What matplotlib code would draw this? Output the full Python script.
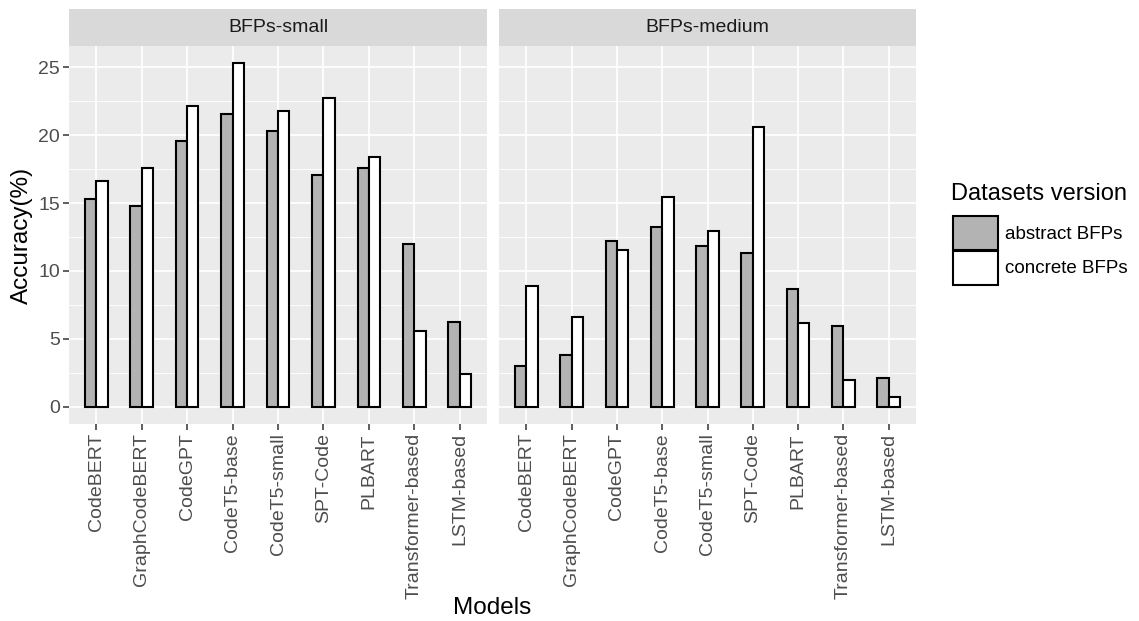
import matplotlib.pyplot as plt
from matplotlib.patches import Rectangle, Patch
import numpy as np

plt.rcParams['font.family'] = ['Liberation Sans', 'DejaVu Sans']

models = ["CodeBERT", "GraphCodeBERT", "CodeGPT", "CodeT5-base", "CodeT5-small",
          "SPT-Code", "PLBART", "Transformer-based", "LSTM-based"]
panels = ["BFPs-small", "BFPs-medium"]
series = ["abstract BFPs", "concrete BFPs"]

small_abstract = [15.30, 14.76, 19.59, 21.57, 20.30, 17.04, 17.56, 11.97, 6.22]
small_concrete = [16.65, 17.58, 22.16, 25.29, 21.74, 22.75, 18.39, 5.58, 2.42]
medium_abstract = [3.01, 3.84, 12.22, 13.20, 11.83, 11.31, 8.69, 5.97, 2.15]
medium_concrete = [8.89, 6.64, 11.53, 15.45, 12.93, 20.57, 6.15, 2.01, 0.69]

data = {
    "BFPs-small": (small_abstract, small_concrete),
    "BFPs-medium": (medium_abstract, medium_concrete),
}
fills = ["#B3B3B3", "#FFFFFF"]

W, H = 1139, 621
fig = plt.figure(figsize=(W / 100, H / 100), dpi=100)

def fx(px):
    return px / W

def fy(py):
    return 1 - py / H

# panel boxes in pixel units: (left, right)
panel_x = [(69, 487), (499, 916)]
top, bottom, strip_top = 46, 424, 9

ymax = max(max(small_concrete), max(small_abstract))
pad = 0.05 * ymax
x = np.arange(1, len(models) + 1)
bw = 0.25

for i, (name, (xl, xr)) in enumerate(zip(panels, panel_x)):
    ax = fig.add_axes([fx(xl), fy(bottom), fx(xr - xl), (bottom - top) / H])
    ax.set_facecolor("#EBEBEB")
    abstract, concrete = data[name]
    ax.bar(x - bw / 2, abstract, width=bw, color=fills[0], edgecolor="black", linewidth=1.5, zorder=3)
    ax.bar(x + bw / 2, concrete, width=bw, color=fills[1], edgecolor="black", linewidth=1.5, zorder=3)
    ax.set_xlim(0.4, len(models) + 0.6)
    ax.set_ylim(-pad, ymax + pad)
    ax.set_yticks([0, 5, 10, 15, 20, 25])
    ax.set_yticks([2.5, 7.5, 12.5, 17.5, 22.5], minor=True)
    ax.set_xticks(x)
    ax.set_xticklabels(models, rotation=90, fontsize=14, color="#4D4D4D")
    ax.grid(which="major", color="white", linewidth=1.25, zorder=0)
    ax.grid(which="minor", axis="y", color="white", linewidth=0.6, zorder=0)
    ax.set_axisbelow(True)
    for s in ax.spines.values():
        s.set_visible(False)
    ax.tick_params(axis="both", which="major", length=4.5, width=1.1, color="#333333", pad=2)
    ax.tick_params(axis="both", which="minor", length=0)
    if i == 0:
        ax.tick_params(axis="y", labelsize=14, labelcolor="#4D4D4D")
    else:
        ax.tick_params(axis="y", left=False, labelleft=False)

    # facet strip
    fig.patches.append(Rectangle((fx(xl), fy(top)), fx(xr - xl), (top - strip_top) / H,
                                 transform=fig.transFigure, facecolor="#D9D9D9",
                                 edgecolor="none", zorder=1))
    fig.text(fx((xl + xr) / 2), fy((top + strip_top) / 2), name, ha="center", va="center",
             fontsize=14, color="#1A1A1A")

fig.text(fx(492), fy(608), "Models", ha="center", va="center", fontsize=17.5)
fig.text(fx(22), fy(235), "Accuracy(%)", ha="center", va="center", rotation=90, fontsize=17.5)

# legend: title as plain text, keys below it
fig.text(fx(951), fy(194), "Datasets version", ha="left", va="center", fontsize=17)
handles = [Patch(facecolor=c, edgecolor="black", linewidth=1.5) for c in fills]
leg = fig.legend(handles, series, loc="upper left", bbox_to_anchor=(fx(953), fy(216)),
                 frameon=False, fontsize=13.5,
                 handlelength=2.4, handleheight=2.4, labelspacing=0.05, handletextpad=0.35,
                 borderaxespad=0, borderpad=0)

fig.savefig("out.png", dpi=100)
